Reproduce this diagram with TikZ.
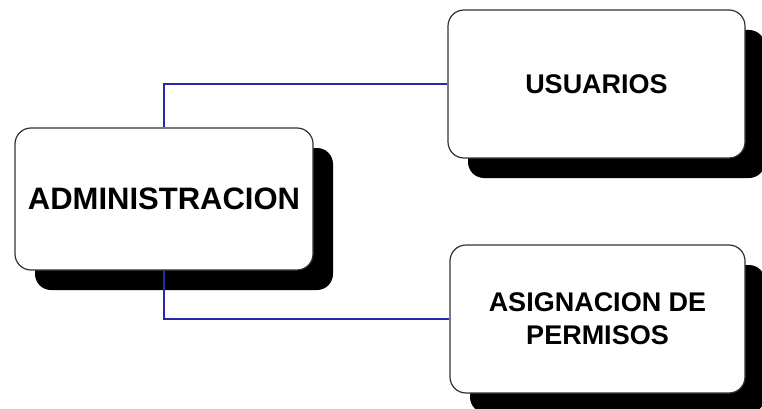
\documentclass[tikz,border=0pt]{standalone}
\usepackage{fontspec}
\setmainfont{Liberation Sans}
\usetikzlibrary{shadows}
\definecolor{linkblue}{RGB}{40,40,170}
\definecolor{boxline}{RGB}{50,50,50}
\begin{document}
\begin{tikzpicture}[x=1pt,y=-1pt,
  boxnode/.style={draw=boxline,line width=1.2pt,fill=white,rounded corners=16pt,
    align=center,inner sep=0pt,font=\bfseries,
    drop shadow={shadow xshift=20pt,shadow yshift=-20pt,opacity=1,fill=black}},
  link/.style={draw=linkblue,line width=1.1pt}]
\useasboundingbox (0,0) rectangle (762,409);
\node[boxnode,minimum width=298pt,minimum height=142pt,
  font=\bfseries\fontsize{31}{37}\selectfont] (admin) at (164,199) {ADMINISTRACION};
\node[boxnode,minimum width=297pt,minimum height=148pt,
  font=\bfseries\fontsize{27}{33}\selectfont] (usu) at (596.5,84) {USUARIOS};
\node[boxnode,minimum width=295pt,minimum height=148pt,
  font=\bfseries\fontsize{27}{33}\selectfont] (asig) at (597.5,319) {ASIGNACION DE\\PERMISOS};
\draw[link] (admin.north) |- (usu.west);
\draw[link] (admin.south) |- (asig.west);
\end{tikzpicture}
\end{document}
